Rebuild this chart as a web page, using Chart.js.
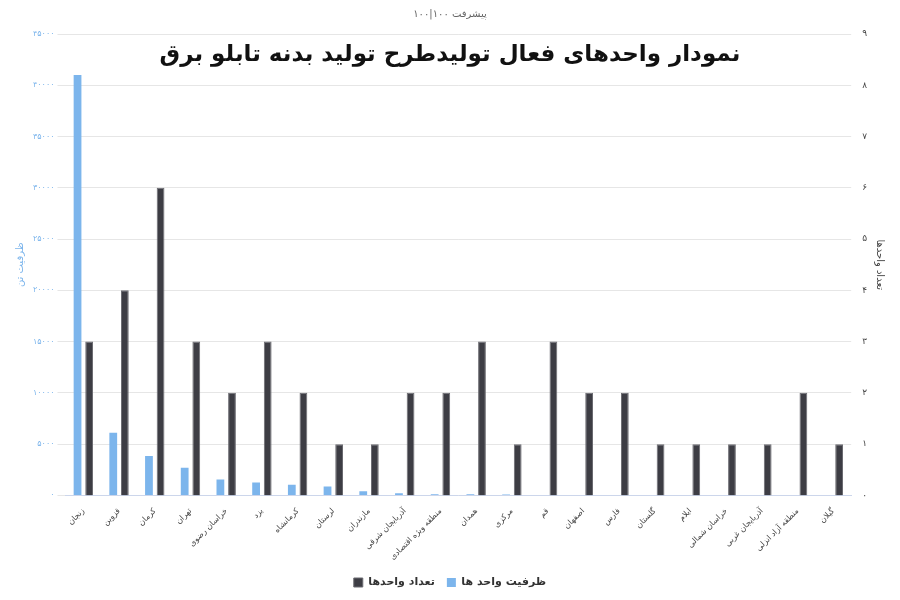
<!DOCTYPE html>
<html><head><meta charset="utf-8">
<script src="https://cdn.jsdelivr.net/npm/chart.js@4/dist/chart.umd.min.js"></script>
<style>body{margin:0;background:#fff}#wrap{width:900px;height:600px}</style>
</head><body><div id="wrap"><canvas id="c"></canvas></div>
<script>
// داده‌ها
const provinces = ['زنجان','قزوین','کرمان','تهران','خراسان رضوی','یزد','کرمانشاه','لرستان','مازندران','آذربایجان شرقی','منطقه ویژه اقتصادی','همدان','مرکزی','قم','اصفهان','فارس','گلستان','ایلام','خراسان شمالی','آذربایجان غربی','منطقه آزاد انزلی','گیلان'];
const capacity = [41000,6100,3850,2700,1550,1250,1050,870,400,200,100,100,80,50,50,40,30,0,0,0,0,0];
const unitCount = [3,4,6,3,2,3,2,1,1,2,2,3,1,3,2,2,1,1,1,1,2,1];

function faDigits(n) {
    return String(n).replace(/\d/g, d => '۰۱۲۳۴۵۶۷۸۹'[d]);
}

const font = "'DejaVu Sans', 'Noto Sans', sans-serif";

// عنوان اصلی داخل ناحیه نمودار
const headingPlugin = {
    id: 'heading',
    afterDraw(chart) {
        const ctx = chart.ctx;
        ctx.save();
        ctx.font = "bold 23px " + font;
        ctx.fillStyle = '#111';
        ctx.textAlign = 'center';
        ctx.textBaseline = 'middle';
        ctx.fillText('نمودار واحدهای فعال تولیدطرح تولید بدنه تابلو برق', 450, 55);
        ctx.restore();
    }
};

new Chart(document.getElementById('c'), {
    type: 'bar',
    data: {
        labels: provinces,
        datasets: [{
            label: 'ظرفیت واحد ها',
            data: capacity,
            backgroundColor: '#7cb5ec',
            yAxisID: 'y',
            categoryPercentage: 0.65,
            barPercentage: 0.67
        }, {
            label: 'تعداد واحدها',
            data: unitCount,
            backgroundColor: '#3d3d44',
            borderColor: '#6a6a70',
            borderWidth: 1,
            yAxisID: 'y1',
            categoryPercentage: 0.65,
            barPercentage: 0.67
        }]
    },
    options: {
        responsive: true,
        maintainAspectRatio: false,
        animation: false,
        layout: { padding: { left: 10, right: 10, bottom: 2 } },
        plugins: {
            title: {
                display: true,
                text: 'پیشرفت ۱۰۰|۱۰۰',
                color: '#666',
                font: { family: font, size: 10, weight: 'normal' },
                padding: { top: 8, bottom: 14 }
            },
            legend: {
                position: 'bottom',
                reverse: true,
                labels: {
                    boxWidth: 9, boxHeight: 9, color: '#333',
                    font: { family: font, size: 11, weight: 'bold' },
                    padding: 12
                }
            },
            tooltip: { enabled: false }
        },
        scales: {
            x: {
                grid: { display: false, drawTicks: true },
                border: { color: '#ccd6eb' },
                ticks: {
                    color: '#444', maxRotation: 45, minRotation: 45,
                    font: { family: font, size: 8 }
                }
            },
            y: {
                position: 'left',
                min: 0, max: 45000,
                ticks: { stepSize: 5000, color: '#7cb5ec', font: { family: font, size: 8 }, callback: v => faDigits(v) },
                grid: { color: '#e6e6e6' },
                border: { display: false },
                title: { display: true, text: 'ظرفیت تن', color: '#7cb5ec', font: { family: font, size: 10 } }
            },
            y1: {
                position: 'right',
                min: 0, max: 9,
                ticks: { stepSize: 1, color: '#444', font: { family: font, size: 9 }, callback: v => faDigits(v) },
                grid: { display: false },
                border: { display: false },
                title: { display: true, text: 'تعداد واحدها', color: '#444', font: { family: font, size: 10 } }
            }
        }
    },
    plugins: [headingPlugin]
});
</script></body></html>
